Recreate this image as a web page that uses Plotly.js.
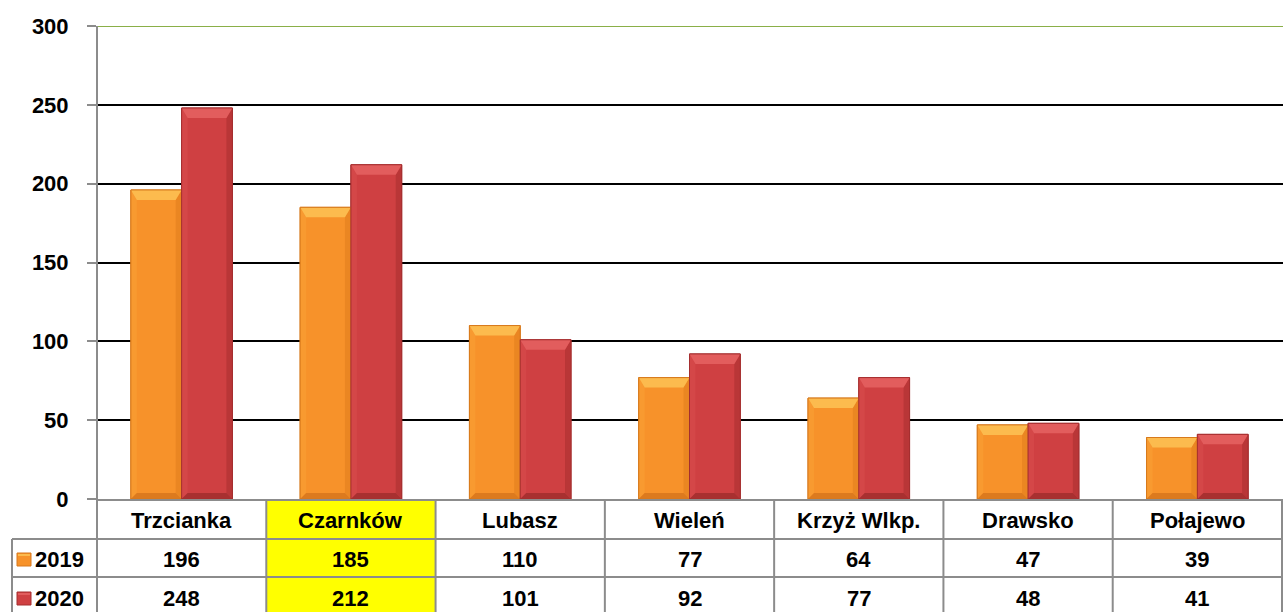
<!DOCTYPE html>
<html><head><meta charset="utf-8">
<script src="https://cdn.plot.ly/plotly-3.0.1.min.js"></script>
<style>html,body{margin:0;padding:0;background:#fff}#c{width:1283px;height:612px}</style>
</head><body><div id="c"></div>
<script>
const categories = ["Trzcianka","Czarnków","Lubasz","Wieleń","Krzyż Wlkp.","Drawsko","Połajewo"];
const seriesNames = ["2019","2020"];
const values2019 = [196,185,110,77,64,47,39];
const values2020 = [248,212,101,92,77,48,41];
const yTicks = [0,50,100,150,200,250,300];
const highlighted = "Czarnków";

const W = 1283, H = 612;
const L = 97, R = 0, T = 26, B = 113;
const plotW = W - L - R, plotH = H - T - B;
const px2py = p => (H - B - p) / plotH;   // pixel y -> paper y
const px2px = p => (p - L) / plotW;       // pixel x -> paper x
const FONT = '"Liberation Sans", Arial, sans-serif';
const FS = 22;
const yMax = yTicks[yTicks.length-1];

const pal = [
  {main:'#F7922A', top:'#FCBB4E', left:'#F89A30', right:'#EA8622', bottom:'#DC7A1E', edge:'#D7791C'},
  {main:'#CF4042', top:'#E25D5D', left:'#D44748', right:'#B93637', bottom:'#A83030', edge:'#A52E2F'}
];
const seriesVals = [values2019, values2020];

const traces = seriesVals.map((vals, s) => ({type:'bar', name:seriesNames[s], x:categories, y:vals,
   marker:{color:pal[s].main, line:{color:pal[s].edge, width:1}}, hoverinfo:'skip'}));

const shapes = [];
const annotations = [];
const rowEdges = [499, 539, 577, 612];
const rowCenters = [520, 559, 598];
const lineCol = '#8c8c8c';

// bevel overlays derived from bar values (group width 0.6 -> each bar 0.3 wide)
const catPx = plotW / categories.length;
const bw = (1 - 0.4) / 2;
const sx = 6 / catPx;            // side bevel in category units
const ty = 10 * yMax / plotH;    // top bevel in value units
const by = 6 * yMax / plotH;     // bottom bevel
seriesVals.forEach((vals, s) => vals.forEach((v, i) => {
  const x0 = i - bw + s*bw, x1 = x0 + bw, c = pal[s];
  const t = Math.min(ty, v/2), b = Math.min(by, v/3);
  const path = pts => 'M' + pts.map(p => p[0] + ',' + p[1]).join(' L') + ' Z';
  shapes.push({type:'path', xref:'x', yref:'y', fillcolor:c.left, line:{width:0},
    path:path([[x0,0],[x0,v],[x0+sx,v-t],[x0+sx,b]])});
  shapes.push({type:'path', xref:'x', yref:'y', fillcolor:c.right, line:{width:0},
    path:path([[x1,0],[x1,v],[x1-sx,v-t],[x1-sx,b]])});
  shapes.push({type:'path', xref:'x', yref:'y', fillcolor:c.top, line:{width:0},
    path:path([[x0,v],[x1,v],[x1-sx,v-t],[x0+sx,v-t]])});
  shapes.push({type:'path', xref:'x', yref:'y', fillcolor:c.bottom, line:{width:0},
    path:path([[x0,0],[x1,0],[x1-sx,b],[x0+sx,b]])});
  shapes.push({type:'rect', xref:'x', yref:'y', x0:x0, x1:x1, y0:0, y1:v, fillcolor:'rgba(0,0,0,0)',
    line:{color:c.edge, width:1}});
}));

// highlight column
const hi = categories.indexOf(highlighted);
shapes.push({type:'rect', xref:'x', yref:'paper', x0:hi-0.5, x1:hi+0.5,
  y0:px2py(612), y1:px2py(500), fillcolor:'#FFFF00', line:{width:0}, layer:'below'});

// top gridline (green)
shapes.push({type:'line', xref:'paper', yref:'y', x0:0, x1:1, y0:yMax, y1:yMax,
  line:{color:'#8AAF48', width:2}});

// horizontal table lines
[rowEdges[1], rowEdges[2]].forEach(p => shapes.push({type:'line', xref:'paper', yref:'paper',
  x0:px2px(12), x1:1, y0:px2py(p), y1:px2py(p), line:{color:lineCol, width:2}}));
// vertical table lines at category boundaries
for (let i = 0; i < categories.length; i++) {
  shapes.push({type:'line', xref:'x', yref:'paper', x0:i+0.5, x1:i+0.5,
    y0:0, y1:px2py(612), line:{color:lineCol, width:2}});
}
shapes.push({type:'line', xref:'paper', yref:'paper', x0:0, x1:0, y0:1, y1:px2py(612), line:{color:lineCol, width:2}});
shapes.push({type:'line', xref:'paper', yref:'paper', x0:px2px(12), x1:px2px(12), y0:px2py(rowEdges[1]), y1:px2py(612), line:{color:lineCol, width:2}});

const tf = {family:FONT, size:FS, color:'#000', weight:'bold'};
categories.forEach((c,i) => annotations.push({xref:'x', yref:'paper', x:c, y:px2py(rowCenters[0]),
  text:c, showarrow:false, font:tf, xanchor:'center', yanchor:'middle'}));
seriesVals.forEach((arr, r) => {
  arr.forEach((v,i) => annotations.push({xref:'x', yref:'paper', x:categories[i], y:px2py(rowCenters[r+1]),
    text:String(v), showarrow:false, font:tf, xanchor:'center', yanchor:'middle'}));
  annotations.push({xref:'paper', yref:'paper', x:px2px(33), y:px2py(rowCenters[r+1]), text:seriesNames[r],
    showarrow:false, font:tf, xanchor:'left', yanchor:'middle'});
  shapes.push({type:'rect', xref:'paper', yref:'paper', x0:px2px(17), x1:px2px(31),
    y0:px2py(rowCenters[r+1]+7), y1:px2py(rowCenters[r+1]-6),
    fillcolor: pal[r].main, line:{color: pal[r].edge, width:1}});
  shapes.push({type:'rect', xref:'paper', yref:'paper', x0:px2px(18), x1:px2px(30),
    y0:px2py(rowCenters[r+1]-3), y1:px2py(rowCenters[r+1]-5),
    fillcolor: pal[r].top, line:{width:0}});
});

const layout = {
  width:W, height:H, margin:{l:L, r:R, t:T, b:B, pad:0},
  paper_bgcolor:'#fff', plot_bgcolor:'#fff',
  barmode:'group', bargap:0.4, bargroupgap:0,
  showlegend:false,
  font:{family:FONT, color:'#000'},
  xaxis:{type:'category', showticklabels:false, ticks:'', showgrid:false, zeroline:false,
    showline:true, linecolor:lineCol, linewidth:2, fixedrange:true},
  yaxis:{range:[yTicks[0], yMax], tickvals:yTicks, ticktext:yTicks.map(String),
    ticks:'outside', ticklen:9, tickcolor:lineCol, tickwidth:2,
    showline:false, showgrid:true, gridcolor:'#000', gridwidth:2, zeroline:false,
    tickfont:tf, ticklabelstandoff:14, fixedrange:true},
  shapes:shapes, annotations:annotations
};
Plotly.newPlot('c', traces, layout, {displayModeBar:false, staticPlot:true});
</script></body></html>
